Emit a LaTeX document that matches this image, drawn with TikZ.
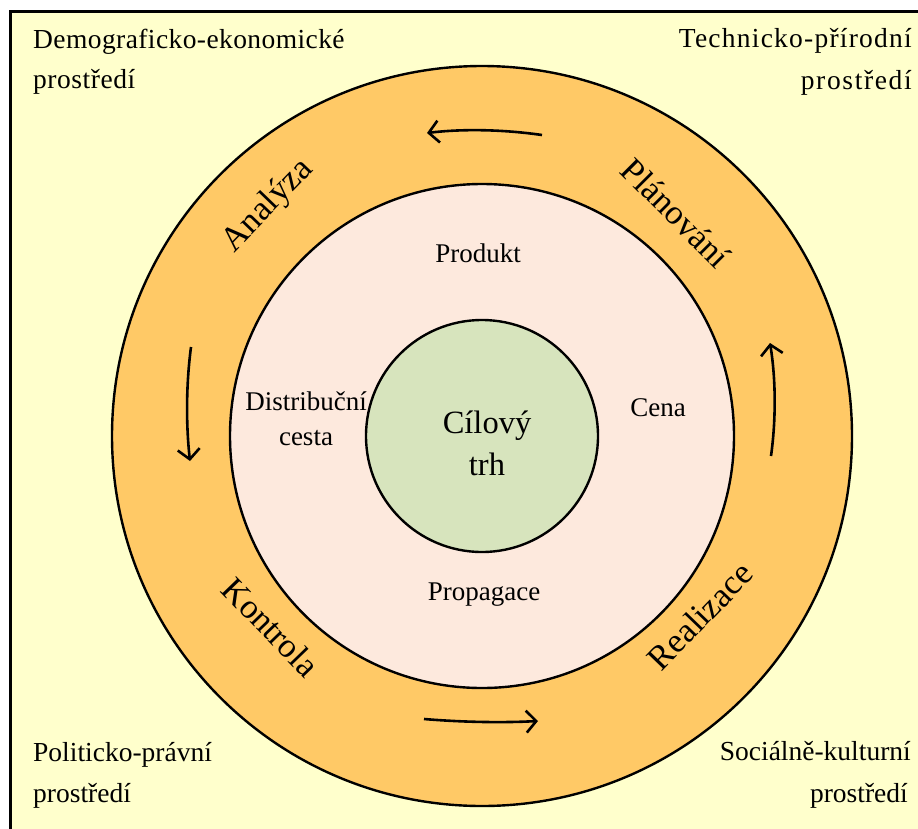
\documentclass[tikz,border=0pt]{standalone}
\usepackage{fontspec}
\setmainfont{Liberation Serif}
\usetikzlibrary{arrows.meta}
\definecolor{bgyellow}{RGB}{255,255,204}
\definecolor{ringorange}{RGB}{255,201,102}
\definecolor{midpink}{RGB}{253,233,221}
\definecolor{coregreen}{RGB}{215,228,189}
\tikzset{
  ring/.style={draw=black, line width=2.4pt},
  corner/.style={font=\fontsize{27.5}{40}\selectfont, inner sep=0pt},
  mixlabel/.style={font=\fontsize{27}{35}\selectfont, inner sep=0pt, align=center},
  phase/.style={font=\fontsize{34.5}{40}\selectfont, inner sep=0pt},
  cyc/.style={line width=2.6pt, -{Straight Barb[length=10pt,width=22pt,line width=2.6pt]}}
}
\begin{document}
\begin{tikzpicture}[x=1pt,y=-1pt]
\useasboundingbox (0,0) rectangle (918,828);
\fill[white] (0,0) rectangle (918,828);
\draw[fill=bgyellow, line width=3pt] (10,11) rectangle (930,840);
% circles
\node[ring, fill=ringorange, circle, minimum size=740pt, inner sep=0pt] (outer) at (482,436) {};
\node[ring, fill=midpink, circle, minimum size=504pt, inner sep=0pt] (middle) at (482,436) {};
\node[ring, fill=coregreen, circle, minimum size=232pt, inner sep=0pt] (core) at (482,436) {};
% corner labels
\node[corner, anchor=base west] (demo1) at (33,48) {\addfontfeature{LetterSpace=1.5}Demograficko-ekonomické};
\node[corner, anchor=base west] (demo2) at (33,88) {\addfontfeature{LetterSpace=2}prostředí};
\node[corner, anchor=base east] (tech1) at (912,47) {\addfontfeature{LetterSpace=4.5}Technicko-přírodní};
\node[corner, anchor=base east] (tech2) at (912,89) {\addfontfeature{LetterSpace=6}prostředí};
\node[corner, anchor=base west] (pol1) at (33,761) {Politicko-právní};
\node[corner, anchor=base west] (pol2) at (33,802) {prostředí};
\node[corner, anchor=base east] (soc1) at (911,760) {Sociálně-kulturní};
\node[corner, anchor=base east] (soc2) at (908,802) {prostředí};
% marketing mix
\node[mixlabel, anchor=base] (produkt) at (478,262) {Produkt};
\node[mixlabel, anchor=base] (cena) at (658,416) {Cena};
\node[mixlabel, anchor=base] (dist1) at (306,410) {Distribuční};
\node[mixlabel, anchor=base] (dist2) at (306,445) {cesta};
\node[mixlabel, anchor=base] (propagace) at (484,600) {Propagace};
% core
\node[font=\fontsize{32.5}{40}\selectfont, inner sep=0pt, anchor=base] (cil1) at (487,433) {Cílový};
\node[font=\fontsize{32.5}{40}\selectfont, inner sep=0pt, anchor=base] (cil2) at (487,475) {trh};
% phases
\node[phase, rotate=46] (analyza) at (268,206) {Analýza};
\node[phase, rotate=-45] (planovani) at (676,213) {Plánování};
\node[phase, rotate=-46] (kontrola) at (271,627) {Kontrola};
\node[phase, rotate=46] (realizace) at (700,616) {Realizace};
% cycle arrows
\coordinate (ta) at (542,135);
\coordinate (tb) at (427,133);
\coordinate (la) at (191,347);
\coordinate (lb) at (190,461);
\coordinate (ba) at (424,719);
\coordinate (bb) at (538,721);
\coordinate (ra) at (771,456);
\coordinate (rb) at (770,343);
\draw[cyc] (ta) .. controls (500,129) and (460,129) .. (tb);
\draw[cyc] (la) .. controls (186,385) and (186,425) .. (lb);
\draw[cyc] (ba) .. controls (460,722) and (500,723) .. (bb);
\draw[cyc] (ra) .. controls (776,420) and (776,380) .. (rb);
\end{tikzpicture}
\end{document}
